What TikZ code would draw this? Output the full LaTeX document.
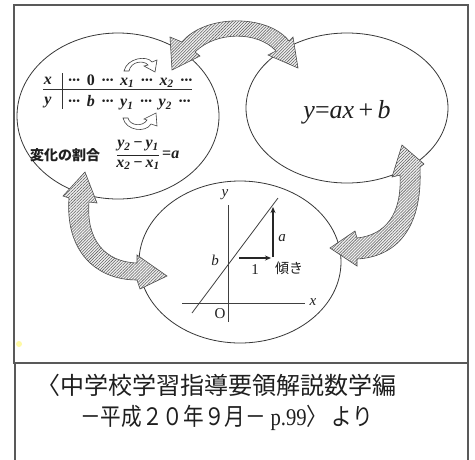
\documentclass[tikz,border=0pt]{standalone}
\usepackage{fontspec}
\setmainfont{Liberation Serif}
\newfontfamily\jp{Noto Sans CJK JP}
\usetikzlibrary{patterns.meta,arrows.meta,shapes.geometric}
\begin{document}
\begin{tikzpicture}[x=1pt,y=-1pt,
  boxline/.style={draw=black!65,line width=1.3pt},
  ell/.style={ellipse,draw=black!78,line width=0.8pt,inner sep=0pt},
  fat/.style={draw=black!70,line width=0.6pt,preaction={fill=gray!12},
    pattern={Lines[angle=45,distance=2.1pt,line width=0.55pt]},pattern color=black!62},
  hollow/.style={draw=black!75,line width=0.6pt,fill=white},
  lab/.style={inner sep=0pt,text=black!88},
  tab/.style={lab,font=\bfseries\itshape\fontsize{16}{16}\selectfont},
  ax/.style={draw=black!75,line width=0.7pt},
  vec/.style={draw=black!85,line width=1.1pt,-{Stealth[length=6pt,width=5pt]}},
  ]
\useasboundingbox (0,0) rectangle (475,459);
\fill[white] (0,0) rectangle (475,459);
\fill[yellow!60,opacity=0.6] (19,344) circle (3pt);
% frames
\draw[boxline] (14,5) rectangle (468,363);
\draw[boxline] (15,363) -- (15,460) (468,363) -- (468,460);
% ellipses
\node[ell,minimum width=202pt,minimum height=166pt] (L) at (118,116) {};
\node[ell,minimum width=202pt,minimum height=150pt] (R) at (347,108) {};
\node[ell,minimum width=202pt,minimum height=162pt] (B) at (240,262) {};
% fat arrows
\path[fat] (172,70) -- (170,37) -- (182,42) .. controls (205,14) and (268,14) .. (289,41)
  -- (293,37) -- (298,68) -- (268,55) -- (276,51) .. controls (258,31) and (216,31) .. (195,52)
  -- (200,56) -- cycle;
\path[fat] (85,172) -- (97,203) -- (89,202) .. controls (86,240) and (105,262) .. (137,263)
  -- (137,255) -- (167,276) -- (140,289) -- (137,280) .. controls (95,280) and (65,250) .. (69,198)
  -- (63,196) -- cycle;
\path[fat] (402,145) -- (424,164) -- (420,167) .. controls (423,230) and (395,257) .. (357,259)
  -- (357,266) -- (330,248) -- (355,231) -- (357,238) .. controls (385,235) and (402,215) .. (400,175)
  -- (392,177) -- cycle;
% left ellipse content
\node[tab] (tx) at (48,81) {x};
\node[tab,anchor=west] (trx) at (68,81) {···\ \,{\upshape 0}\ \,···\ \,x\textsubscript{1}\ \,···\ \,x\textsubscript{2}\ \,···};
\node[tab] (ty) at (48,103) {y};
\node[tab,anchor=west] (try) at (68,103) {···\ \,b\ \,···\ \,y\textsubscript{1}\ \,···\ \,y\textsubscript{2}\ \,···};
\coordinate (hl1) at (43,89); \coordinate (hl2) at (192,89);
\coordinate (vl1) at (62,73); \coordinate (vl2) at (62,109);
\draw[black!80,line width=0.8pt] (hl1) -- (hl2) (vl1) -- (vl2);
\path[hollow] (124,71) .. controls (127,58) and (147,55) .. (152,62) -- (157,60) -- (155,72)
  -- (144,66) -- (148,65) .. controls (144,60) and (131,61) .. (129,71) -- cycle;
\path[hollow] (123,118) .. controls (126,131) and (146,133) .. (151,124) -- (157,126) -- (156,113)
  -- (144,119) -- (147,120) .. controls (143,127) and (130,126) .. (128,118) -- cycle;
\node[lab,anchor=west,font=\jp\bfseries\fontsize{14}{14}\selectfont] (rate) at (30,155) {変化の割合};
\node[tab] (num) at (138,146) {y\textsubscript{2}\,−\,y\textsubscript{1}};
\node[tab] (den) at (138,165) {x\textsubscript{2}\,−\,x\textsubscript{1}};
\draw[black!85,line width=0.7pt] (num.south west |- 0,155) -- (num.south east |- 0,155);
\node[tab,anchor=west] (eqa) at (162,155) {{\upshape =}a};
% right ellipse content
\node[lab,font=\itshape\fontsize{26}{26}\selectfont] (eq) at (347,112) {y{\upshape =}ax{\,\upshape +\,}b};
% bottom ellipse content
\coordinate (ya1) at (228,205); \coordinate (ya2) at (228,322);
\coordinate (xa1) at (182,303); \coordinate (xa2) at (305,303);
\coordinate (ln1) at (192,313); \coordinate (ln2) at (278,198);
\draw[ax] (ya1) -- (ya2) (xa1) -- (xa2);
\draw[ax,line width=0.8pt] (ln1) -- (ln2);
\coordinate (h1) at (239,258); \coordinate (h2) at (271,258);
\coordinate (v1) at (273,257); \coordinate (v2) at (273,207);
\draw[vec] (h1) -- (h2);
\draw[vec] (v1) -- (v2);
\node[lab,font=\itshape\fontsize{15}{15}\selectfont] (ly) at (225,195) {y};
\node[lab,font=\itshape\fontsize{15}{15}\selectfont] (lx) at (313,302) {x};
\node[lab,font=\fontsize{15}{15}\selectfont] (lO) at (220,314) {O};
\node[lab,font=\itshape\fontsize{15}{15}\selectfont] (lb) at (215,260) {b};
\node[lab,font=\itshape\fontsize{15}{15}\selectfont] (la) at (282,238) {a};
\node[lab,font=\fontsize{15}{15}\selectfont] (l1) at (255,270) {1};
\node[lab,font=\jp\fontsize{14}{14}\selectfont] (lk) at (289,268) {傾き};
% caption
\node[lab,anchor=west,font=\jp\fontsize{24}{24}\selectfont] (c1) at (36,385) {〈中学校学習指導要領解説数学編};
\node[lab,anchor=west,font=\jp\fontsize{24}{24}\selectfont] (c2) at (80,418) {\scalebox{0.86}[1]{－平成２０年９月－ {\rmfamily p.99}〉 より}};
\end{tikzpicture}
\end{document}
